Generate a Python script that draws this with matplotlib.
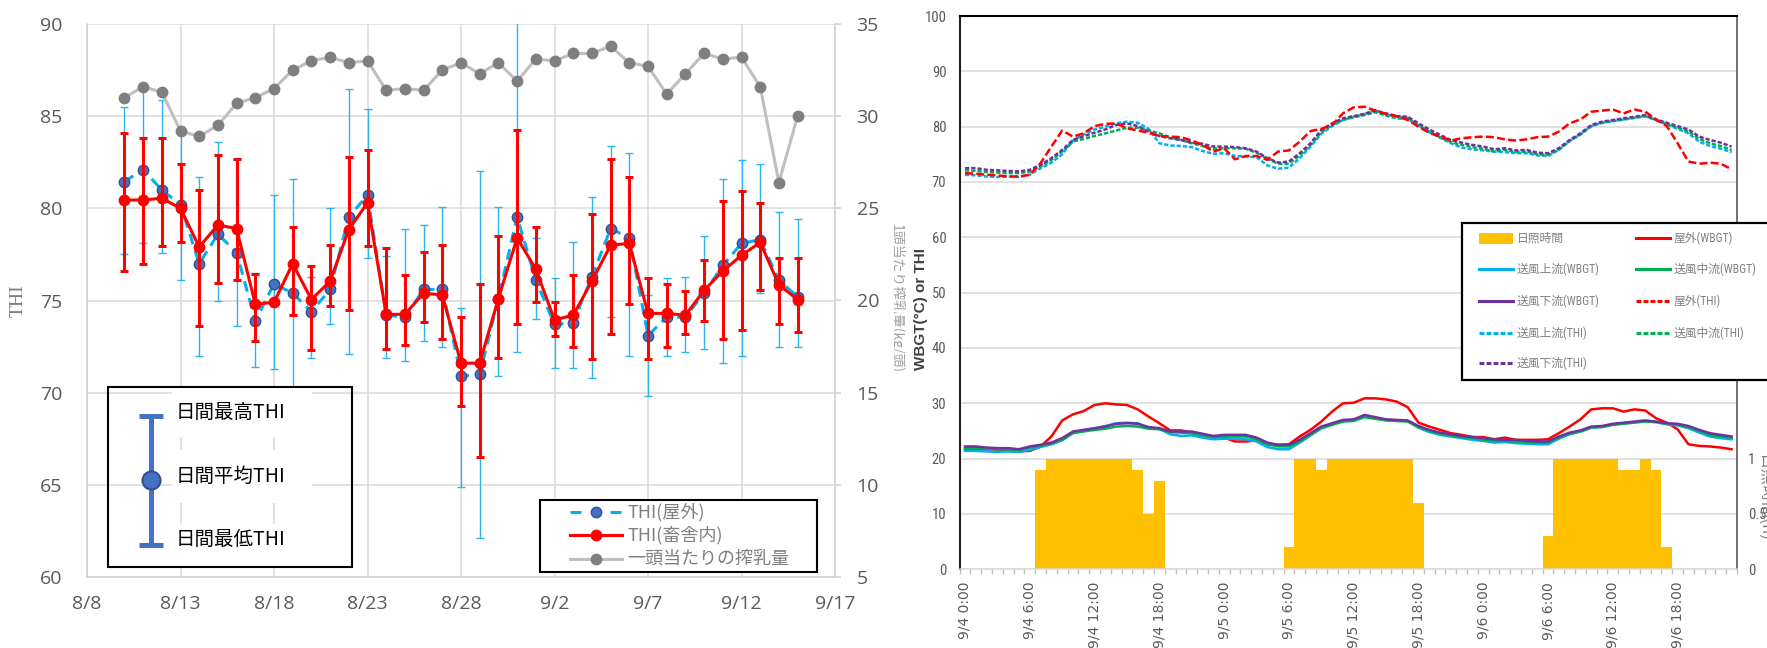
import numpy as np
import pandas as pd
import matplotlib
matplotlib.use("Agg")
import matplotlib.pyplot as plt
from matplotlib.lines import Line2D
from matplotlib.patches import Rectangle
from matplotlib.transforms import Affine2D, Bbox, TransformedBbox
from matplotlib import font_manager

# ======================= DATA : left panel =======================
day_labels = ['8/10', '8/11', '8/12', '8/13', '8/14', '8/15', '8/16', '8/17', '8/18', '8/19',
              '8/20', '8/21', '8/22', '8/23', '8/24', '8/25', '8/26', '8/27', '8/28', '8/29',
              '8/30', '8/31', '9/1', '9/2', '9/3', '9/4', '9/5', '9/6', '9/7', '9/8',
              '9/9', '9/10', '9/11', '9/12', '9/13', '9/14', '9/15']
outdoor_mean = [81.45, 82.1, 81.0, 80.2, 77.0, 78.6, 77.6, 73.9, 75.9, 75.4,
                74.4, 75.6, 79.55, 80.7, 74.2, 74.1, 75.6, 75.6, 70.9, 71.0,
                75.1, 79.55, 76.1, 73.7, 73.8, 76.3, 78.9, 78.4, 73.1, 74.1,
                74.1, 75.4, 76.9, 78.1, 78.3, 76.1, 75.2]
outdoor_max = [85.5, 86.4, 85.9, 84.1, 81.7, 83.6, 82.7, 76.5, 80.7, 81.6,
               76.3, 80.0, 86.5, 85.4, 77.4, 78.9, 79.1, 80.05, 74.6, 82.0,
               80.05, 91.0, 78.4, 76.2, 78.2, 80.6, 83.4, 83.0, 75.3, 76.2,
               76.3, 78.5, 81.6, 82.6, 82.4, 79.8, 79.4]
outdoor_min = [77.5, 78.1, 77.6, 76.1, 72.0, 75.0, 73.6, 71.4, 71.3, 69.6,
               71.9, 73.7, 72.1, 77.3, 71.9, 71.7, 72.8, 72.5, 64.9, 62.1,
               70.9, 72.2, 74.0, 71.35, 71.35, 70.8, 74.1, 72.0, 69.8, 72.0,
               72.2, 72.35, 71.6, 72.0, 75.4, 72.5, 72.5]
barn_mean = [80.45, 80.45, 80.55, 80.0, 77.9, 79.1, 78.9, 74.8, 74.9, 77.0,
             75.05, 76.05, 78.85, 80.3, 74.25, 74.25, 75.4, 75.3, 71.6, 71.6,
             75.1, 78.4, 76.7, 73.95, 74.2, 76.05, 78.0, 78.1, 74.3, 74.3,
             74.2, 75.55, 76.6, 77.45, 78.15, 75.85, 75.05]
barn_max = [84.1, 83.8, 83.8, 82.4, 81.0, 82.9, 82.65, 76.45, 74.9, 79.0,
            76.85, 78.0, 82.8, 83.15, 77.85, 76.4, 77.65, 78.0, 74.1, 75.9,
            78.5, 84.25, 79.0, 74.9, 76.4, 79.7, 82.7, 81.7, 76.2, 75.9,
            75.5, 77.2, 80.4, 80.95, 80.3, 77.3, 77.3]
barn_min = [76.6, 77.0, 77.95, 78.2, 73.6, 75.95, 76.1, 72.8, 74.9, 74.2,
            72.3, 74.7, 74.5, 77.95, 72.35, 72.6, 73.85, 72.9, 69.3, 66.5,
            71.9, 73.7, 74.9, 73.1, 72.5, 71.8, 73.2, 74.8, 71.8, 72.5,
            73.2, 73.9, 72.9, 73.4, 75.55, 73.7, 73.3]
milk_yield = [31.0, 31.6, 31.3, 29.2, 28.9, 29.5, 30.7, 31.0, 31.5, 32.5,
              33.0, 33.2, 32.9, 33.0, 31.4, 31.5, 31.4, 32.5, 32.9, 32.3,
              32.9, 31.9, 33.1, 33.0, 33.4, 33.4, 33.8, 32.9, 32.7, 31.2,
              32.3, 33.4, 33.1, 33.2, 31.6, 26.4, 30.0]
left_xtick_labels = ['8/8', '8/13', '8/18', '8/23', '8/28', '9/2', '9/7', '9/12', '9/17']
left_series_names = ['THI(屋外)', 'THI(畜舎内)', '一頭当たりの搾乳量']
errbar_legend_names = ['日間最高THI', '日間平均THI', '日間最低THI']

# ======================= DATA : right panel =======================
hour_start = '2023-09-04 00:00'
sunshine_h = [0, 0, 0, 0, 0, 0, 0, 0.9, 1, 1, 1, 1, 1, 1, 1, 1, 0.9, 0.5, 0.8,
              0, 0, 0, 0, 0, 0, 0, 0, 0, 0, 0,
              0.2, 1, 1, 0.9, 1, 1, 1, 1, 1, 1, 1, 1, 0.6,
              0, 0, 0, 0, 0, 0, 0, 0, 0, 0, 0,
              0.3, 1, 1, 1, 1, 1, 1, 0.9, 0.9, 1, 0.9, 0.2,
              0, 0, 0, 0, 0, 0]
wbgt_out = [21.7, 21.7, 21.7, 21.6, 21.4, 21.3, 21.4, 22.2, 24.0,
            26.9, 28.0, 28.6, 29.7, 30.0, 29.8, 29.7, 28.9, 27.6,
            26.4, 25.1, 25.1, 24.7, 24.3, 24.0, 23.8, 23.1, 23.1,
            23.3, 22.6, 22.5, 22.6, 24.0, 25.2, 26.7, 28.5, 30.0,
            30.1, 30.9, 30.9, 30.7, 30.3, 29.3, 26.5, 25.8, 25.2,
            24.6, 24.3, 23.9, 23.9, 23.5, 23.8, 23.4, 23.4, 23.4,
            23.5, 24.6, 25.8, 27.1, 28.9, 29.1, 29.1, 28.5, 28.9,
            28.7, 27.3, 26.5, 25.3, 22.6, 22.3, 22.2, 22.0, 21.7]
wbgt_up = [21.4, 21.4, 21.3, 21.2, 21.3, 21.2, 21.6, 22.1, 22.6,
           23.3, 24.7, 25.1, 25.5, 25.9, 26.4, 26.5, 26.4, 25.6,
           25.4, 24.4, 24.1, 24.2, 23.8, 23.5, 23.6, 23.6, 23.5,
           23.1, 22.1, 21.7, 21.7, 22.9, 24.2, 25.5, 26.2, 26.8,
           27.0, 27.8, 27.3, 27.0, 26.9, 26.8, 25.6, 24.8, 24.3,
           24.0, 23.7, 23.4, 23.2, 22.9, 23.0, 22.8, 22.7, 22.6,
           22.6, 23.6, 24.4, 24.9, 25.6, 25.8, 26.2, 26.4, 26.6,
           26.8, 26.6, 26.2, 26.0, 25.5, 24.7, 24.0, 23.7, 23.5]
wbgt_mid = [21.9, 21.9, 21.8, 21.7, 21.7, 21.6, 22.0, 22.3, 22.7,
            23.4, 24.6, 24.9, 25.2, 25.4, 25.8, 25.9, 25.8, 25.4,
            25.3, 24.8, 24.7, 24.6, 24.2, 23.9, 24.0, 24.0, 24.0,
            23.5, 22.6, 22.2, 22.2, 23.1, 24.3, 25.5, 26.1, 26.7,
            26.8, 27.5, 27.2, 26.9, 26.8, 26.7, 25.7, 25.0, 24.5,
            24.2, 23.9, 23.7, 23.4, 23.2, 23.2, 23.1, 23.0, 22.9,
            22.9, 23.8, 24.5, 24.9, 25.6, 25.7, 26.1, 26.3, 26.5,
            26.7, 26.6, 26.3, 26.1, 25.7, 25.0, 24.3, 24.0, 23.8]
wbgt_down = [22.2, 22.2, 22.0, 21.9, 21.9, 21.7, 22.2, 22.5, 22.9,
             23.7, 24.9, 25.2, 25.5, 25.8, 26.3, 26.4, 26.3, 25.7,
             25.5, 24.9, 24.9, 24.9, 24.5, 24.1, 24.3, 24.3, 24.3,
             23.8, 22.9, 22.5, 22.5, 23.4, 24.6, 25.8, 26.4, 27.0,
             27.1, 27.9, 27.5, 27.1, 27.0, 26.9, 25.9, 25.2, 24.7,
             24.4, 24.1, 23.9, 23.7, 23.5, 23.4, 23.4, 23.2, 23.1,
             23.1, 24.0, 24.7, 25.1, 25.8, 25.9, 26.3, 26.5, 26.7,
             26.9, 26.7, 26.4, 26.3, 25.9, 25.2, 24.6, 24.3, 24.0]
thi_out = [71.6, 71.5, 71.3, 71.2, 71.0, 71.0, 71.3, 73.4, 76.4,
           79.3, 78.2, 78.8, 80.1, 80.5, 80.6, 79.7, 79.3, 78.9,
           78.3, 78.2, 78.1, 77.5, 76.7, 75.5, 76.1, 74.1, 74.7,
           74.7, 74.0, 75.5, 75.7, 77.3, 79.2, 79.6, 80.3, 82.4,
           83.5, 83.6, 82.9, 82.3, 81.9, 81.2, 80.0, 78.9, 78.2,
           77.5, 77.9, 78.1, 78.2, 78.1, 77.7, 77.5, 77.7, 78.1,
           78.2, 79.1, 80.6, 81.3, 82.7, 82.9, 83.1, 82.4, 83.1,
           82.7, 81.3, 80.1, 77.0, 73.7, 73.3, 73.5, 73.3, 72.3]
thi_up = [71.3, 71.2, 71.0, 70.9, 71.0, 70.9, 71.3, 72.5, 73.5,
          75.0, 77.5, 78.6, 79.5, 80.0, 80.6, 80.9, 80.7, 79.6,
          77.0, 76.6, 76.5, 76.3, 75.6, 75.1, 75.2, 74.7, 74.6,
          74.5, 73.0, 72.4, 72.6, 74.3, 76.4, 78.7, 80.1, 81.2,
          81.8, 82.3, 83.0, 82.2, 81.8, 81.6, 80.2, 79.0, 78.0,
          77.0, 76.2, 75.9, 75.7, 75.5, 75.4, 75.2, 75.2, 74.8,
          74.7, 75.8, 77.4, 78.6, 80.1, 80.7, 81.0, 81.3, 81.6,
          81.9, 81.2, 80.4, 79.6, 78.8, 77.3, 76.5, 76.0, 75.4]
thi_mid = [72.1, 72.0, 71.8, 71.7, 71.6, 71.6, 71.9, 72.8, 74.0,
           75.5, 77.3, 77.8, 78.3, 78.8, 79.3, 79.8, 79.8, 79.3,
           78.8, 78.0, 77.6, 77.0, 76.5, 76.0, 76.1, 76.1, 76.0,
           75.3, 74.2, 73.3, 73.3, 74.8, 76.7, 79.0, 80.3, 81.2,
           81.7, 82.1, 82.6, 82.0, 81.5, 81.4, 80.2, 79.1, 78.1,
           77.2, 76.7, 76.3, 76.0, 75.5, 75.8, 75.4, 75.5, 75.0,
           74.9, 75.9, 77.4, 78.6, 80.1, 80.7, 81.0, 81.3, 81.6,
           81.9, 81.2, 80.5, 79.8, 79.1, 77.8, 77.0, 76.5, 75.8]
thi_down = [72.5, 72.5, 72.2, 72.1, 72.0, 71.9, 72.2, 73.1, 74.3,
            75.8, 77.6, 78.3, 78.9, 79.5, 80.3, 80.6, 80.1, 79.1,
            78.3, 77.9, 77.6, 77.1, 76.9, 76.4, 76.4, 76.3, 76.1,
            75.5, 74.3, 73.5, 73.7, 75.2, 77.0, 79.4, 80.6, 81.5,
            81.9, 82.3, 82.9, 82.4, 81.9, 81.8, 80.6, 79.5, 78.5,
            77.6, 77.1, 76.7, 76.4, 75.9, 76.1, 75.7, 75.8, 75.3,
            75.2, 76.1, 77.6, 78.8, 80.3, 80.9, 81.2, 81.5, 81.8,
            82.1, 81.3, 80.7, 80.1, 79.5, 78.2, 77.6, 77.1, 76.4]
right_series_names = ['日照時間', '屋外(WBGT)', '送風上流(WBGT)', '送風中流(WBGT)', '送風下流(WBGT)',
                      '屋外(THI)', '送風上流(THI)', '送風中流(THI)', '送風下流(THI)']

# ======================= FONTS / STYLE =======================
entries = font_manager.fontManager.ttflist
names = {f.name for f in entries}
CJK = 'Noto Sans CJK JP'
OPEN = 'Open Sans' if 'Open Sans' in names else 'DejaVu Sans'


def _regular(f):
    return f.style == 'normal' and f.weight in (400, 'normal', 'regular', 'book', 'Regular')


def pick_narrow():
    prefs = ['Liberation Sans Narrow', 'Arial Narrow', 'Roboto Condensed', 'Open Sans Condensed',
             'Noto Sans Condensed', 'DejaVu Sans Condensed']
    for p in prefs:
        for f in entries:
            if f.name == p and _regular(f):
                return f.name, f.stretch, True
    for base in ['Noto Sans', 'Open Sans', 'Roboto', 'DejaVu Sans', 'Inter', 'Lato']:
        for f in entries:
            if f.name == base and _regular(f) and str(f.stretch) in ('condensed', 'semi-condensed'):
                return f.name, f.stretch, True
    return 'DejaVu Sans', 'normal', False


NARROW, NSTRETCH, HAVE_NARROW = pick_narrow()
plt.rcParams['font.family'] = [OPEN, CJK, 'DejaVu Sans']

W, H = 1767, 648
fig = plt.figure(figsize=(W / 100, H / 100), dpi=100)
fig.patch.set_facecolor('white')
T = Affine2D().scale(1.0 / W, -1.0 / H).translate(0, 1) + fig.transFigure  # pixel (top-left origin)

GRID = '#d9d9d9'
TICK = '#595959'
C_RED = '#ff0000'
C_CYAN = '#00b0f0'
C_GREEN = '#00b050'
C_PURPLE = '#7030a0'
C_ORANGE = '#ffc000'
C_BLUE = '#4472c4'
C_BLUE_EDGE = '#2f528f'
C_EBLUE = '#2bb5ee'

# ======================= LEFT PANEL =======================
dates = pd.to_datetime(['2023/' + s for s in day_labels])
xt = pd.to_datetime(['2023/' + s for s in left_xtick_labels])
om, omax, omin = map(np.asarray, (outdoor_mean, outdoor_max, outdoor_min))
bm, bmax, bmin = map(np.asarray, (barn_mean, barn_max, barn_min))

ax = fig.add_axes([87 / W, 1 - 577 / H, 748 / W, 553 / H])
ax.set_xlim(xt[0], xt[-1])
ax.set_ylim(60, 90)
ax.set_yticks(np.arange(60, 91, 5))
ax.set_xticks(xt)
ax.set_xticklabels(left_xtick_labels)
ax.grid(True, color=GRID, lw=1.1)
ax.set_axisbelow(True)
for s in ['top', 'right']:
    ax.spines[s].set_visible(False)
for s in ['left', 'bottom']:
    ax.spines[s].set_color('#d0d0d0')
    ax.spines[s].set_linewidth(1.1)
ax.tick_params(axis='y', length=0, labelsize=14, labelcolor=TICK, pad=18)
ax.tick_params(axis='x', length=0, labelsize=14, labelcolor=TICK, pad=13)

ax.errorbar(dates, om, yerr=[om - omin, omax - om], fmt='none', ecolor=C_EBLUE,
            elinewidth=1.0, capsize=3, capthick=1.0, zorder=2)
ax.plot(dates, om, color=C_CYAN, lw=2.2, dashes=(3.5, 2.2), marker='o', ms=7.5,
        mfc=C_BLUE, mec=C_BLUE_EDGE, mew=1.0, zorder=3)
ax.errorbar(dates, bm, yerr=[bm - bmin, bmax - bm], fmt='none', ecolor=C_RED,
            elinewidth=2.2, capsize=2.8, capthick=2.2, zorder=4)
ax.plot(dates, bm, color=C_RED, lw=2.2, marker='o', ms=7.5, mfc=C_RED, mec=C_RED, zorder=5)

axm = ax.twinx()
axm.set_ylim(5, 35)
axm.set_yticks(np.arange(5, 36, 5))
axm.plot(dates, milk_yield, color='#bfbfbf', lw=2.2, marker='o', ms=7.5,
         mfc='#7f7f7f', mec='#7f7f7f', zorder=6)
for s in ['top', 'left', 'bottom']:
    axm.spines[s].set_visible(False)
axm.spines['right'].set_color('#d0d0d0')
axm.spines['right'].set_linewidth(1.1)
axm.tick_params(axis='y', length=4.5, color='#d0d0d0', width=1.1, labelsize=14,
                labelcolor=TICK, pad=11)

fig.text(18 / W, 1 - 301 / H, 'THI', rotation=90, fontsize=14, family='Liberation Serif',
         color='#7f7f7f', ha='center', va='center')
tt = fig.text(896 / W, 1 - 298 / H, '1頭当たり搾乳量(kg/頭)', rotation=270, fontsize=10,
              family=[CJK, 'DejaVu Sans'], color='#a0a0a0', ha='center', va='center')
tt.set_clip_box(TransformedBbox(Bbox([[894 / W, 0], [1, 1]]), fig.transFigure))
tt.set_clip_on(True)

# --- error bar explanation box ---
fig.add_artist(Rectangle((108, 387), 244, 180, transform=T, fill=False, ec='black', lw=1.5, zorder=10))
for (y0, y1) in [(388, 437), (450, 503), (524, 566)]:
    fig.add_artist(Rectangle((172, y0), 140, y1 - y0, transform=T, fc='white', ec='none', zorder=9))
fig.add_artist(Line2D([151, 151], [416, 545], transform=T, color=C_BLUE, lw=3.6, zorder=11,
                      solid_capstyle='butt'))
for yy in (416, 545):
    fig.add_artist(Line2D([139, 163], [yy, yy], transform=T, color=C_BLUE, lw=3.6, zorder=11,
                          solid_capstyle='butt'))
fig.add_artist(Line2D([151], [480], transform=T, marker='o', ms=13, mfc=C_BLUE, mec=C_BLUE_EDGE,
                      mew=1.5, zorder=12))
for name, yy in zip(errbar_legend_names, (412, 476, 539)):
    fig.text(176 / W, 1 - yy / H, name, fontsize=14, family=[CJK], color='black',
             ha='left', va='center', zorder=12)

# --- series legend box ---
fig.add_artist(Rectangle((540, 500), 277, 72, transform=T, fc='white', ec='black', lw=1.5, zorder=10))
rows = [512, 535, 559]
fig.add_artist(Line2D([570, 622], [rows[0]] * 2, transform=T, color=C_CYAN, lw=2.2,
                      dashes=(3.6, 9.5), zorder=11))
fig.add_artist(Line2D([596], [rows[0]], transform=T, marker='o', ms=7.5, mfc=C_BLUE,
                      mec=C_BLUE_EDGE, mew=1.0, zorder=12))
fig.add_artist(Line2D([570, 622], [rows[1]] * 2, transform=T, color=C_RED, lw=2.2, zorder=11))
fig.add_artist(Line2D([596], [rows[1]], transform=T, marker='o', ms=7.5, mfc=C_RED, mec=C_RED, zorder=12))
fig.add_artist(Line2D([570, 622], [rows[2]] * 2, transform=T, color='#bfbfbf', lw=2.2, zorder=11))
fig.add_artist(Line2D([596], [rows[2]], transform=T, marker='o', ms=7.5, mfc='#7f7f7f',
                      mec='#7f7f7f', zorder=12))
for name, yy in zip(left_series_names, rows):
    fig.text(627 / W, 1 - yy / H, name, fontsize=13, family=[CJK], color='#808080',
             ha='left', va='center', zorder=12)

# ======================= RIGHT PANEL =======================
hours = pd.date_range(hour_start, periods=len(sunshine_h), freq='h')
pos = np.arange(len(hours))
ytick_size = 10.5 if HAVE_NARROW else 9.5

axr = fig.add_axes([959.6 / W, 1 - 569.3 / H, 777.4 / W, 553.3 / H])
axs = axr.twinx()
axs.set_zorder(1)
axr.set_zorder(2)
axr.patch.set_visible(False)

axs.bar(pos, sunshine_h, width=1.0, color=C_ORANGE, zorder=2)
axs.set_ylim(0, 5)
sun_ticks = np.arange(0, 5.01, 0.5)
axs.set_yticks(sun_ticks)
axs.set_yticklabels(['0', '0.5', '1'] + [''] * (len(sun_ticks) - 3))
axs.grid(axis='y', color=GRID, lw=1.1)
axs.set_axisbelow(True)
for s in axs.spines.values():
    s.set_visible(False)
axs.tick_params(axis='y', length=0, labelsize=ytick_size, labelcolor=TICK, pad=8)
for lbl in axs.get_yticklabels():
    lbl.set_family([NARROW, 'DejaVu Sans'])
    lbl.set_stretch(NSTRETCH)

axr.set_xlim(-0.5, len(hours) - 0.5)
axr.set_ylim(0, 100)
axr.set_yticks(np.arange(0, 101, 10))
axr.plot(pos, wbgt_out, color=C_RED, lw=1.8, zorder=3)
axr.plot(pos, wbgt_up, color=C_CYAN, lw=1.8, zorder=3)
axr.plot(pos, wbgt_mid, color=C_GREEN, lw=1.8, zorder=3)
axr.plot(pos, wbgt_down, color=C_PURPLE, lw=1.8, zorder=3)
axr.plot(pos, thi_up, color=C_CYAN, lw=1.8, dashes=(1.7, 0.8), zorder=3)
axr.plot(pos, thi_mid, color=C_GREEN, lw=1.8, dashes=(1.7, 0.8), zorder=3)
axr.plot(pos, thi_down, color=C_PURPLE, lw=1.8, dashes=(1.7, 0.8), zorder=3)
axr.plot(pos, thi_out, color=C_RED, lw=1.8, dashes=(3.2, 1.3), zorder=3)

maj = [i for i, t in enumerate(hours) if t.hour % 6 == 0]
axr.set_xticks(maj)
axr.set_xticklabels([f"{hours[i].month}/{hours[i].day} {hours[i].hour}:00" for i in maj],
                    rotation=90, fontsize=10, color=TICK, family='DejaVu Sans')
axr.set_xticks(np.arange(-0.5, len(hours), 1.0), minor=True)
axr.tick_params(axis='x', which='major', length=0, pad=9)
axr.tick_params(axis='x', which='minor', length=3.5, color='#bfbfbf', width=1.0, direction='out')
axr.tick_params(axis='y', length=0, labelsize=ytick_size, labelcolor=TICK, pad=9.5)
for lbl in axr.get_yticklabels():
    lbl.set_family([NARROW, 'DejaVu Sans'])
    lbl.set_stretch(NSTRETCH)
axr.spines['top'].set_color('black')
axr.spines['top'].set_linewidth(1.5)
axr.spines['left'].set_color('#222222')
axr.spines['left'].set_linewidth(1.5)
axr.spines['right'].set_color('#595959')
axr.spines['right'].set_linewidth(1.2)
axr.spines['bottom'].set_color(GRID)
axr.spines['bottom'].set_linewidth(1.1)

fig.text(921 / W, 1 - 309 / H, 'WBGT(°C) or THI', rotation=90, fontsize=11, fontweight='bold',
         family='Liberation Sans', color='#404040', ha='center', va='center')
fig.text(1764 / W, 1 - 498 / H, '日照時間(h)', rotation=270, fontsize=12, family=[CJK],
         color='#808080', ha='center', va='center')

# --- right legend ---
fig.add_artist(Rectangle((1462, 223), 360, 157, transform=T, fc='white', ec='black', lw=1.6, zorder=10))
leg_rows = [238, 269, 301, 333, 363]
col_x = [1479, 1636]
leg_size = 10.5 if HAVE_NARROW else 9.0
styles = [('patch', C_ORANGE), ('solid', C_RED), ('solid', C_CYAN), ('solid', C_GREEN),
          ('solid', C_PURPLE), ('dash', C_RED), ('dash', C_CYAN), ('dash', C_GREEN), ('dash', C_PURPLE)]
leg_texts = []
for k, (name, (kind, col)) in enumerate(zip(right_series_names, styles)):
    r, c = divmod(k, 2)
    x0 = col_x[c]
    yy = leg_rows[r]
    if kind == 'patch':
        fig.add_artist(Rectangle((x0, yy - 5.5), 34, 11, transform=T, fc=col, ec='none', zorder=11))
    elif kind == 'solid':
        fig.add_artist(Line2D([x0, x0 + 34], [yy, yy], transform=T, color=col, lw=2.2, zorder=11))
    else:
        fig.add_artist(Line2D([x0, x0 + 34], [yy, yy], transform=T, color=col, lw=2.2,
                              dashes=(1.6, 0.7), zorder=11))
    leg_texts.append(fig.text((x0 + 38) / W, 1 - yy / H, name, fontsize=leg_size,
                              family=[NARROW, CJK], fontstretch=NSTRETCH, color='#808080',
                              ha='left', va='center', zorder=12))

# shrink legend text uniformly until the widest entry ends inside the figure (as in the reference)
renderer = fig.canvas.get_renderer()
size = leg_size
for _ in range(30):
    right_edge = max(t.get_window_extent(renderer).x1 for t in leg_texts)
    if right_edge <= W - 8:
        break
    size -= 0.25
    for t in leg_texts:
        t.set_fontsize(size)

fig.savefig('out.png', dpi=100, facecolor='white')
